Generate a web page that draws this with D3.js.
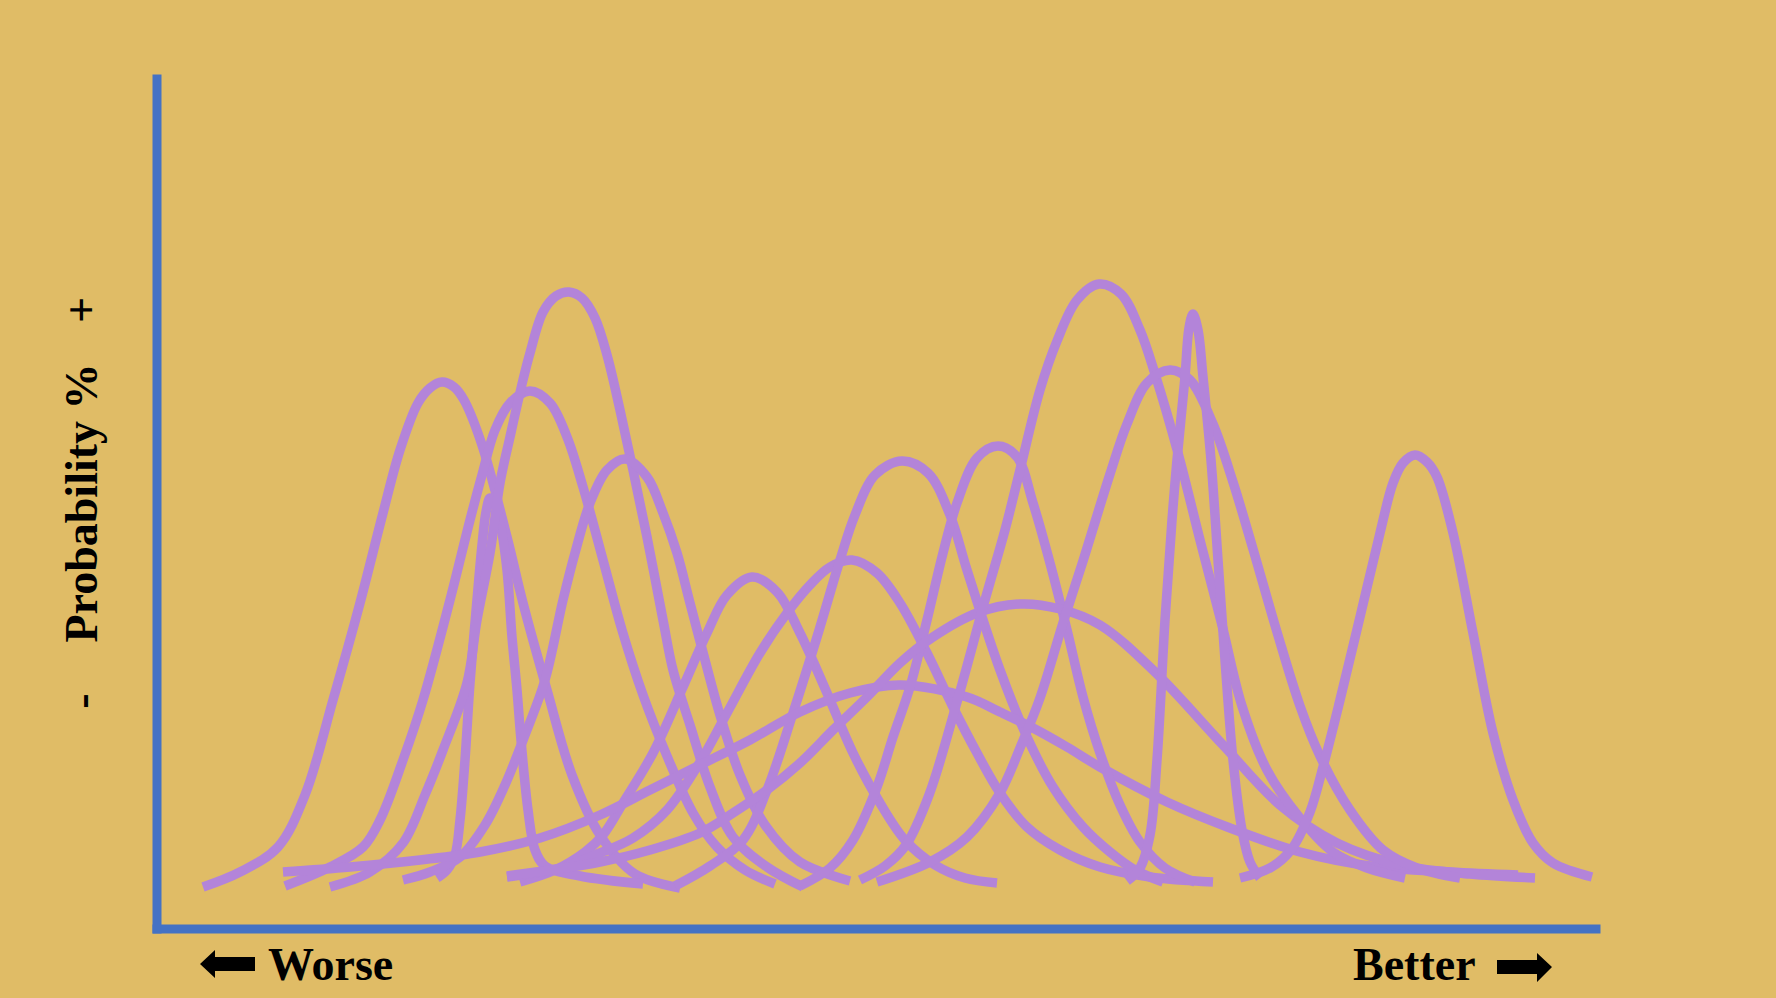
<!DOCTYPE html>
<html>
<head>
<meta charset="utf-8">
<script src="https://cdn.jsdelivr.net/npm/d3@7"></script>
<style>
  body { margin: 0; background: #E0BC66; }
  svg { display: block; }
</style>
</head>
<body>
<main></main>
<script>
const WIDTH = 1776;
const HEIGHT = 998;
const LINE_WIDTH = 9.5;
const AXIS_WIDTH = 9;

// Each curve is a list of [score, probability] points
const curveA = [[4.6,4.2],[8.3,5.7],[12.1,8.2],[14.8,13.4],[17.6,22.9],[20.3,32.6],[22.6,41.6],[24.3,47.9],[26.1,52.6],[27.3,54.1],[28.5,54.7],[29.7,54.2],[30.7,52.9],[32.5,48.4],[35.0,39.2],[36.6,32.6],[39.0,23.9],[41.5,15.4],[44.3,9.4],[47.8,5.5],[52.3,4.1]];
const curveB = [[28.0,5.1],[29.0,5.9],[29.8,7.4],[30.3,10.9],[30.8,16.9],[31.3,24.6],[32.0,32.9],[32.5,38.4],[32.9,41.7],[33.3,43.1],[33.8,42.4],[34.3,40.7],[35.0,35.9],[35.5,29.2],[36.0,23.9],[36.4,18.9],[37.1,11.9],[37.8,7.9],[38.8,6.3],[42.3,5.3],[48.6,4.5]];
const curveC = [[12.8,4.3],[17.3,6.2],[20.6,8.2],[22.3,10.9],[24.6,16.9],[26.6,22.9],[29.3,32.9],[31.3,40.9],[32.5,45.4],[33.8,49.9],[35.3,52.6],[37.3,53.8],[39.3,52.6],[41.0,49.2],[42.6,44.2],[44.6,36.9],[46.5,29.9],[48.6,23.4],[51.0,17.3],[53.6,11.6],[56.0,8.2],[58.8,5.9],[61.8,4.5]];
const curveD = [[17.3,4.2],[21.3,5.7],[24.6,8.6],[26.8,13.4],[28.6,17.9],[31.0,24.6],[32.0,30.9],[33.3,37.6],[34.3,44.6],[35.3,49.2],[36.6,54.9],[37.3,57.6],[38.6,61.7],[39.9,63.3],[41.2,63.7],[42.5,63.1],[43.8,61.1],[45.0,57.4],[46.3,51.9],[47.6,45.9],[49.0,39.2],[50.6,30.9],[51.6,25.9],[53.3,20.4],[55.3,14.2],[57.6,9.2],[61.0,6.2],[64.6,4.2]];
const curveE = [[24.6,4.9],[27.3,5.7],[30.3,7.2],[32.8,10.4],[34.8,14.4],[36.8,19.4],[38.8,24.9],[40.6,32.9],[41.8,37.6],[43.3,42.6],[45.0,45.9],[46.8,47.0],[49.0,45.2],[50.6,41.6],[52.0,37.6],[53.3,32.6],[54.8,26.9],[56.3,21.4],[58.3,15.4],[60.8,10.4],[64.3,6.7],[69.3,4.8]];
const curveF = [[36.3,4.7],[39.8,5.9],[42.8,7.7],[44.6,9.4],[46.6,12.6],[49.6,17.6],[52.6,24.2],[55.0,29.6],[57.0,33.4],[59.5,35.2],[62.0,33.7],[64.3,29.6],[67.0,23.6],[69.6,17.6],[72.3,12.6],[74.8,8.9],[77.8,6.4],[80.8,5.1],[84.0,4.6]];
const curveG = [[35.0,5.2],[40.3,6.1],[44.3,7.6],[47.6,9.1],[51.0,11.9],[54.3,16.7],[57.0,21.6],[60.3,27.6],[63.0,31.6],[65.3,34.4],[67.3,36.2],[69.5,36.9],[72.0,35.6],[74.3,32.6],[77.0,27.6],[79.6,22.2],[82.0,17.6],[84.3,13.6],[87.0,10.2],[90.3,7.9],[94.3,6.2],[99.3,5.2],[105.6,4.7]];
const curveH = [[51.8,4.3],[55.3,6.3],[58.6,8.9],[61.0,13.9],[63.6,21.6],[66.0,29.2],[68.3,36.9],[69.8,41.4],[71.8,45.4],[74.5,46.8],[77.1,45.6],[79.3,41.4],[81.0,35.9],[84.3,25.9],[87.0,19.2],[89.6,14.2],[92.6,10.2],[95.3,7.7],[97.8,5.9],[100.6,4.7]];
const curveI = [[12.6,5.7],[19.3,6.2],[26.3,6.9],[32.3,7.7],[38.3,9.1],[44.3,11.4],[49.3,13.9],[54.3,16.4],[59.3,18.9],[64.3,21.7],[69.3,23.6],[74.3,24.4],[81.0,23.2],[84.3,21.7],[87.6,20.1],[91.0,18.2],[94.3,16.2],[101.0,12.7],[107.3,10.1],[114.3,7.7],[121.3,6.3],[129.3,5.7],[136.1,5.4]];
const curveJ = [[64.3,4.3],[67.3,6.1],[69.6,8.9],[72.0,14.2],[73.6,19.2],[75.3,24.2],[77.0,30.9],[78.6,37.6],[80.0,42.6],[82.0,47.1],[84.1,48.3],[86.0,47.2],[87.6,42.6],[89.3,36.6],[91.0,29.9],[92.6,23.2],[94.3,17.6],[96.3,12.4],[98.3,8.7],[100.8,6.1],[103.8,4.7]];
const curveK = [[35.0,5.3],[39.3,5.9],[44.3,6.7],[49.3,7.9],[54.3,9.6],[57.6,11.6],[61.0,13.9],[64.3,16.6],[67.6,19.9],[71.0,23.2],[74.3,26.6],[77.6,29.2],[82.0,31.6],[86.3,32.5],[90.3,32.0],[94.3,30.4],[99.8,25.7],[106.6,18.4],[112.3,12.4],[118.0,8.6],[124.8,6.3],[131.3,5.5],[137.8,5.1]];
const curveL = [[70.3,4.9],[72.8,6.3],[74.9,8.4],[77.2,13.4],[80.0,22.7],[82.8,32.9],[84.8,39.9],[86.3,45.9],[88.3,53.9],[90.0,58.8],[92.0,62.9],[94.2,64.5],[96.4,63.5],[98.3,59.9],[99.8,55.5],[102.1,47.6],[104.3,38.9],[106.5,30.4],[108.5,22.3],[111.0,15.9],[114.3,11.1],[117.6,7.7],[121.0,6.1],[124.8,5.1]];
const curveM = [[72.0,4.7],[77.3,6.7],[81.0,9.2],[84.3,13.6],[86.3,18.1],[88.3,23.1],[90.6,30.6],[92.6,36.8],[95.3,45.5],[97.0,50.5],[99.0,54.6],[101.3,55.9],[103.3,54.9],[105.6,50.5],[107.6,44.7],[109.6,38.0],[112.0,29.7],[114.3,22.3],[116.3,17.3],[119.3,11.9],[122.6,7.9],[126.0,6.1],[130.3,5.1]];
const curveN = [[97.0,4.8],[98.3,6.1],[99.3,9.4],[100.0,16.9],[100.8,30.9],[101.5,40.9],[102.0,46.9],[102.8,55.2],[103.2,60.1],[103.6,61.5],[104.1,59.9],[104.6,55.2],[105.4,46.9],[106.1,36.9],[106.8,26.9],[107.6,16.9],[108.5,9.9],[109.3,6.7],[110.3,5.1]];
const curveO = [[108.3,5.1],[111.3,6.1],[113.4,7.9],[115.3,11.7],[116.6,16.2],[118.3,22.9],[120.3,31.2],[122.3,39.6],[123.6,44.6],[124.6,46.6],[125.8,47.4],[127.0,46.7],[128.0,45.2],[129.6,39.6],[131.6,29.6],[133.6,19.6],[135.6,12.9],[137.6,8.6],[139.6,6.6],[143.5,5.2]];

const curves = [curveA, curveB, curveC, curveD, curveE, curveF, curveG, curveH,
                curveI, curveJ, curveK, curveL, curveM, curveN, curveO];

const xDomain = [0, 143.9];
const yDomain = [0, 85];

const xLabels = ["Worse", "Better"];
const yLabels = ["-", "Probability %", "+"];

var svg = d3.select("main").append("svg")
            .attr("width", WIDTH)
            .attr("height", HEIGHT);

svg.append("rect")
   .attr("width", WIDTH)
   .attr("height", HEIGHT)
   .style("fill", "#E0BC66");

var x = d3.scaleLinear().domain(xDomain).range([157, 1596]);
var y = d3.scaleLinear().domain(yDomain).range([929, 79]);

// The bell curves
var line = d3.line()
             .x(function (d) { return x(d[0]); })
             .y(function (d) { return y(d[1]); })
             .curve(d3.curveCatmullRom.alpha(0.5));

svg.append("g")
   .selectAll("path")
   .data(curves)
   .enter()
   .append("path")
   .attr("d", line)
   .style("fill", "none")
   .style("stroke", "#B384D9")
   .style("stroke-width", LINE_WIDTH)
   .style("stroke-linecap", "butt")
   .style("stroke-linejoin", "round");

// Axis lines (no ticks), drawn over the curves
var half = AXIS_WIDTH / 2;
svg.append("line")
   .attr("x1", x.range()[0]).attr("x2", x.range()[0])
   .attr("y1", y.range()[1] - half).attr("y2", y.range()[0] + half)
   .style("stroke", "#4472C4")
   .style("stroke-width", AXIS_WIDTH);

svg.append("line")
   .attr("x1", x.range()[0] - half).attr("x2", x.range()[1] + half)
   .attr("y1", y.range()[0]).attr("y2", y.range()[0])
   .style("stroke", "#4472C4")
   .style("stroke-width", AXIS_WIDTH);

// Y label: "-   Probability %   +" reading upward
var yLabelPos = [701, 503, 310];
svg.append("g")
   .selectAll("text")
   .data(yLabels)
   .enter()
   .append("text")
   .attr("transform", function (d, i) { return "translate(97," + yLabelPos[i] + ") rotate(-90)"; })
   .style("text-anchor", "middle")
   .style("font-family", "'Liberation Serif', 'DejaVu Serif', serif")
   .style("font-weight", "bold")
   .style("font-size", "46px")
   .style("fill", "black")
   .text(function (d) { return d; });

// X labels with arrows
svg.append("text")
   .attr("x", 268)
   .attr("y", 980)
   .style("font-family", "'Liberation Serif', 'DejaVu Serif', serif")
   .style("font-weight", "bold")
   .style("font-size", "46px")
   .style("fill", "black")
   .text(xLabels[0]);

svg.append("text")
   .attr("x", 1353)
   .attr("y", 980)
   .style("font-family", "'Liberation Serif', 'DejaVu Serif', serif")
   .style("font-weight", "bold")
   .style("font-size", "46px")
   .style("fill", "black")
   .text(xLabels[1]);

var leftArrow = [[200,964],[215,950],[215,957],[255,957],[255,971],[215,971],[215,978]];
var rightArrow = [[1552,967],[1537,953],[1537,960],[1497,960],[1497,974],[1537,974],[1537,982]];

svg.selectAll("polygon.arrow")
   .data([leftArrow, rightArrow])
   .enter()
   .append("polygon")
   .attr("class", "arrow")
   .attr("points", function (d) { return d.map(function (p) { return p.join(","); }).join(" "); })
   .style("fill", "black");
</script>
</body>
</html>
